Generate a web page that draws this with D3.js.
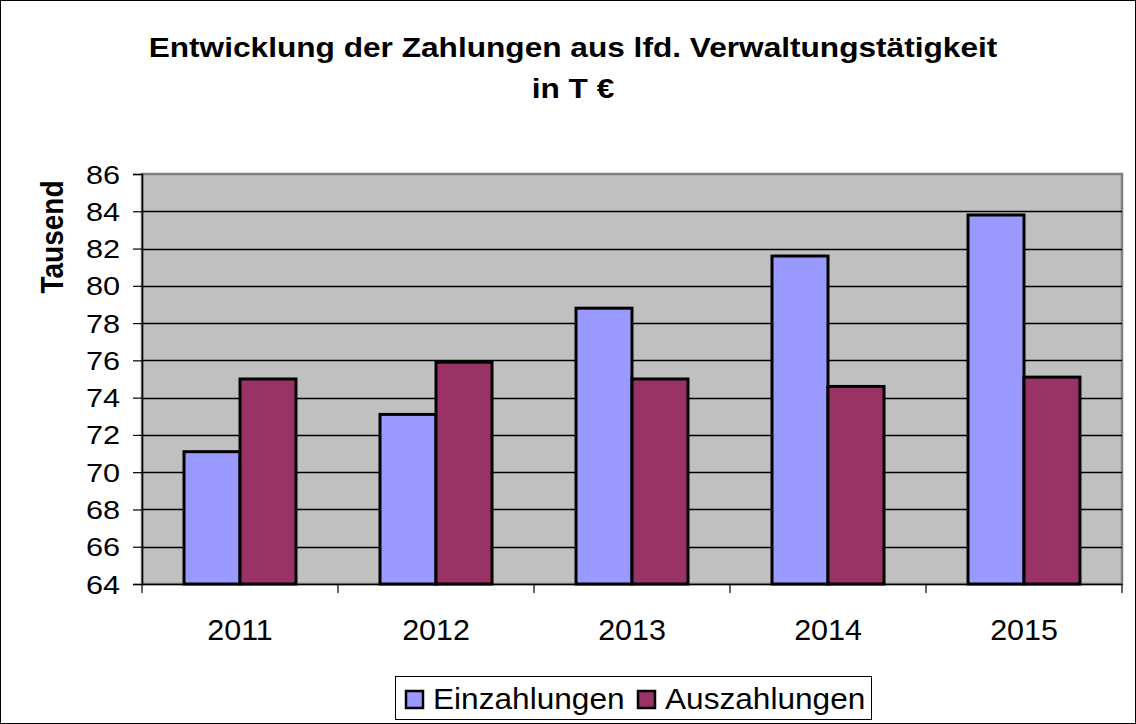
<!DOCTYPE html>
<html>
<head>
<meta charset="utf-8">
<script src="https://cdn.jsdelivr.net/npm/d3@7"></script>
<style>
  html, body { margin: 0; padding: 0; background: #fff; }
  svg { display: block; font-family: "Liberation Sans", Arial, sans-serif; }
</style>
</head>
<body>
<svg id="chart" width="1136" height="724"></svg>
<script>
const categories = ["2011", "2012", "2013", "2014", "2015"];
const seriesNames = ["Einzahlungen", "Auszahlungen"];
const einzahlungen = [71.1, 73.1, 78.8, 81.6, 83.8];
const auszahlungen = [75.0, 75.9, 75.0, 74.6, 75.1];
const yTicks = [64, 66, 68, 70, 72, 74, 76, 78, 80, 82, 84, 86];
const colors = ["#9999FF", "#993366"];
const titleLines = ["Entwicklung der Zahlungen aus lfd. Verwaltungstätigkeit", "in T €"];
const yAxisTitle = "Tausend";

const svg = d3.select("#chart");
const W = 1136, H = 724;
const plot = { left: 142, right: 1122, top: 174, bottom: 584 };
const FONT = "Liberation Sans, Arial, sans-serif";

// outer border
svg.append("rect").attr("x", 0.5).attr("y", 0.5).attr("width", W - 1).attr("height", H - 1)
  .attr("fill", "#fff").attr("stroke", "#000").attr("stroke-width", 1);

// title
svg.append("g").selectAll("text").data(titleLines).join("text")
  .attr("transform", (d, i) => `translate(573,${57 + i * 41}) scale(1.13,1)`)
  .attr("text-anchor", "middle").attr("font-size", 28).attr("font-weight", "bold")
  .text(d => d);

const x0 = d3.scaleBand().domain(categories).range([plot.left, plot.right]).paddingInner(0).paddingOuter(0);
const groupW = 112;
const x1 = d3.scaleBand().domain(seriesNames).range([0, groupW]).padding(0);
const y = d3.scaleLinear().domain([64, 86]).range([plot.bottom, plot.top]);

// plot area background
svg.append("rect").attr("x", plot.left).attr("y", plot.top)
  .attr("width", plot.right - plot.left).attr("height", plot.bottom - plot.top)
  .attr("fill", "#C0C0C0").attr("stroke", "#808080").attr("stroke-width", 2.5);

// gridlines
svg.append("g").selectAll("line").data(yTicks.slice(1, -1)).join("line")
  .attr("x1", plot.left).attr("x2", plot.right)
  .attr("y1", d => Math.round(y(d)) + 0.5).attr("y2", d => Math.round(y(d)) + 0.5)
  .attr("stroke", "#000").attr("stroke-width", 1.5);

// bars
const data = categories.map((c, i) => ({ cat: c, values: [einzahlungen[i], auszahlungen[i]] }));
const groups = svg.append("g").selectAll("g").data(data).join("g")
  .attr("transform", d => `translate(${x0(d.cat) + (x0.bandwidth() - groupW) / 2},0)`);
groups.selectAll("rect").data(d => d.values.map((v, j) => ({ name: seriesNames[j], v, j }))).join("rect")
  .attr("x", d => x1(d.name)).attr("width", x1.bandwidth())
  .attr("y", d => y(d.v)).attr("height", d => y(64) - y(d.v))
  .attr("fill", d => colors[d.j]).attr("stroke", "#000").attr("stroke-width", 3);

// y axis
const yAxis = d3.axisLeft(y).tickValues(yTicks).tickSize(9).tickPadding(0).tickFormat(d3.format("d"));
const gy = svg.append("g").attr("transform", `translate(${plot.left},0)`).call(yAxis);
gy.select(".domain").attr("stroke", "#000").attr("stroke-width", 1.5);
gy.selectAll(".tick line").attr("stroke", "#000").attr("stroke-width", 1.2);
gy.selectAll(".tick text").attr("x", null).attr("dy", null)
  .attr("transform", "translate(-22,9) scale(1.18,1)")
  .attr("font-size", 26).attr("fill", "#000").attr("font-family", FONT);

// x axis
const xAxis = d3.axisBottom(x0).tickSize(0).tickPadding(0);
const gx = svg.append("g").attr("transform", `translate(0,${plot.bottom})`).call(xAxis);
gx.select(".domain").attr("stroke", "#000").attr("stroke-width", 1.5);
gx.selectAll(".tick text").attr("y", null).attr("dy", null)
  .attr("transform", "translate(0,56) scale(1.05,1)")
  .attr("font-size", 29).attr("fill", "#000").attr("font-family", FONT);
// category boundary ticks
const bounds = categories.map(c => x0(c)).concat([plot.right]);
svg.append("g").selectAll("line").data(bounds).join("line")
  .attr("x1", d => d).attr("x2", d => d)
  .attr("y1", plot.bottom).attr("y2", plot.bottom + 9)
  .attr("stroke", "#000").attr("stroke-width", 1.2);

// y axis title
svg.append("text").attr("transform", "translate(63,237) scale(1.1,1) rotate(-90)")
  .attr("text-anchor", "middle").attr("font-size", 28).attr("font-weight", "bold")
  .text(yAxisTitle);

// legend
const leg = svg.append("g");
leg.append("rect").attr("x", 395.5).attr("y", 676.5).attr("width", 476).attr("height", 43)
  .attr("fill", "#fff").attr("stroke", "#000").attr("stroke-width", 1);
const legItems = [{ name: seriesNames[0], x: 405 }, { name: seriesNames[1], x: 637 }];
legItems.forEach((it, i) => {
  leg.append("rect").attr("x", it.x + 1).attr("y", 691).attr("width", 17).attr("height", 17)
    .attr("fill", colors[i]).attr("stroke", "#000").attr("stroke-width", 2.5);
  leg.append("text").attr("transform", `translate(${it.x + 28},709) scale(1.09,1)`)
    .attr("font-size", 29).text(it.name);
});
</script>
</body>
</html>
